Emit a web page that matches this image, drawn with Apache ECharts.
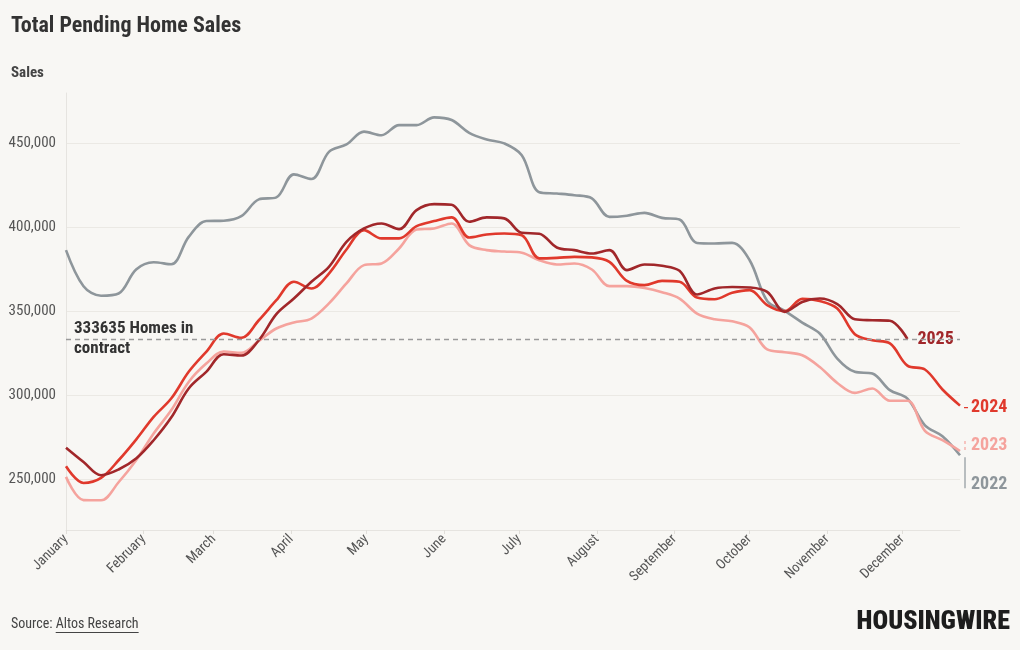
<!DOCTYPE html>
<html>
<head>
<meta charset="utf-8">
<script src="https://cdn.jsdelivr.net/npm/echarts@6/dist/echarts.min.js"></script>
<style>
html,body{margin:0;padding:0;background:#f8f7f4;}
#chart{width:1020px;height:650px;}
</style>
</head>
<body>
<div id="chart"></div>
<script>
// Weekly values (week 0 = Jan 1)
const months = ['January','February','March','April','May','June','July','August','September','October','November','December'];
const monthStartDays = [0,31,59,90,120,151,181,212,243,273,304,334];
const yTicks = [250000,300000,350000,400000,450000];
const years = ['2022','2023','2024','2025'];
const val2022 = [386500,365000,359400,360700,375000,379300,378100,394400,403800,404000,406700,416700,417900,431600,428800,445000,449400,457000,454900,460900,460900,465500,463900,456300,452400,450000,443000,421000,420200,419200,417300,406300,407000,408700,405700,404700,390800,390500,390800,380500,356300,350400,343400,336900,322000,314100,313100,303200,298200,282300,275800,264500];
const val2023 = [251600,237800,237700,248400,261500,277400,291200,308100,319000,326200,325400,332500,339900,343500,345800,354800,366700,377600,378600,387500,398800,399400,402400,389500,386500,385700,385000,380500,378000,378600,375000,365100,365100,364000,361500,357700,348800,345400,344200,340500,327400,325800,324000,317000,307500,301600,304200,296900,296900,279000,273400,267000];
const val2024 = [257900,248000,251000,261500,273800,287300,298200,314100,326000,336900,334300,344800,356700,367700,363700,372600,386900,398400,393500,393500,400800,403800,406000,394000,395800,396400,395400,381600,381900,382500,382200,379500,368200,365700,368200,367700,358300,357300,361100,362700,353800,350200,357500,356300,351800,336500,332900,331000,317800,315500,303600,294000];
const val2025 = [269000,260500,252600,256000,262500,273400,286900,304200,314100,324600,323800,332900,348400,357700,367700,376600,391400,399400,402400,399000,410300,413900,413500,403400,406000,405400,396800,396300,388100,386500,384500,386500,374600,378000,377200,374200,360100,363700,364600,364300,361700,349800,355700,357700,354400,345400,344800,344500,333635];
const refValue = 333635;

const FONT = "'Roboto Condensed','Liberation Sans Narrow','Arial Narrow','DejaVu Sans Condensed',Roboto,sans-serif";
const BG = '#f8f7f4';
const colors = {'2022':'#8e969b','2023':'#f5a39d','2024':'#e0392c','2025':'#a1272a'};
const labelOffsets = {'2022':[0,29],'2023':[0,-6],'2024':[0,2],'2025':[0,0]};
const labelDist = {'2022':11,'2023':11,'2024':11,'2025':8};

function toPairs(arr){ return arr.map((v,i)=>[i*7, v]); }
const seriesVals = {'2022':val2022,'2023':val2023,'2024':val2024,'2025':val2025};

const chart = echarts.init(document.getElementById('chart'), null, {renderer:'canvas'});

const series = years.map(y => ({
  name: y,
  type: 'line',
  data: toPairs(seriesVals[y]),
  smooth: 0.35,
  symbol: 'none',
  lineStyle: {width: 2.6, color: colors[y]},
  itemStyle: {color: colors[y]},
  z: 3,
  endLabel: {
    show: true,
    formatter: y,
    color: colors[y],
    fontFamily: FONT,
    fontWeight: 'bold',
    fontSize: 18,
    distance: labelDist[y],
    offset: labelOffsets[y],
    backgroundColor: y === '2025' ? BG : 'transparent',
    padding: y === '2025' ? [0,2] : 0
  }
}));

// reference line and annotation
series.push({
  name: 'ref',
  type: 'line',
  data: [],
  z: 1,
  markLine: {
    silent: true,
    symbol: 'none',
    lineStyle: {type: [5,4], color: '#9a9a9a', width: 1.3},
    label: {show: false},
    data: [[{coord:[0, refValue]}, {coord:[357, refValue]}]]
  },
  markPoint: {
    silent: true,
    symbol: 'rect',
    symbolSize: 0,
    data: [{coord:[0, refValue]}],
    label: {
      show: true,
      position: 'right',
      distance: 8,
      formatter: refValue + ' Homes in\ncontract',
      color: '#333',
      fontFamily: FONT,
      fontWeight: 'bold',
      fontSize: 17,
      lineHeight: 20,
      align: 'left',
      verticalAlign: 'middle'
    }
  }
});

const option = {
  backgroundColor: BG,
  animation: false,
  grid: {left: 66, right: 60, top: 93, bottom: 120},
  title: [
    {text: 'Total Pending Home Sales', left: 11, top: 15, padding: 0,
     textStyle: {fontFamily: FONT, fontWeight: 'bold', fontSize: 22, color: '#333'}},
    {text: 'Sales', left: 11, top: 66, padding: 0,
     textStyle: {fontFamily: FONT, fontWeight: 'bold', fontSize: 15, color: '#444'}}
  ],
  xAxis: {
    type: 'value',
    min: 0, max: 357,
    axisLine: {show: true, lineStyle: {color: '#e6e4e0'}},
    axisTick: {show: true, customValues: monthStartDays, length: 4, lineStyle: {color: '#e0ded9'}},
    splitLine: {show: false},
    axisLabel: {
      customValues: monthStartDays,
      formatter: v => months[monthStartDays.indexOf(v)] || '',
      rotate: 45,
      fontFamily: FONT, fontSize: 14, color: '#555', margin: 7
    }
  },
  yAxis: {
    type: 'value',
    min: 220000, max: 480000,
    axisLine: {show: true, lineStyle: {color: '#e6e4e0'}},
    axisTick: {show: false, customValues: yTicks},
    splitLine: {show: true, lineStyle: {color: '#ebe9e4', width: 1}},
    axisLabel: {
      customValues: yTicks,
      formatter: v => v.toLocaleString('en-US'),
      fontFamily: FONT, fontSize: 15, color: '#555', margin: 10
    }
  },
  series: series,
  graphic: [
    {type: 'text', left: 11, top: 617,
     style: {text: 'Source: Altos Research', fontFamily: FONT, fontSize: 14, fill: '#444'}},
    {type: 'text', right: 10, top: 610, scaleX: 1.04,
     style: {text: 'HOUSINGWIRE', fontFamily: FONT, fontWeight: 900, fontSize: 25, fill: '#1d1d1d'}}
  ]
};
chart.setOption(option);

// connectors near end labels + underline for source link
(function(){
  const g = [];
  const p22 = chart.convertToPixel({seriesIndex:0}, [357, val2022[val2022.length-1]]);
  const p23 = chart.convertToPixel({seriesIndex:1}, [357, val2023[val2023.length-1]]);
  const p24 = chart.convertToPixel({seriesIndex:2}, [357, val2024[val2024.length-1]]);
  const x = p22[0] + 5;
  g.push({type:'line', silent:true, shape:{x1:x, y1:p22[1]+2, x2:x, y2:p22[1]+33}, style:{stroke:colors['2022'], lineWidth:1.2}});
  g.push({type:'line', silent:true, shape:{x1:x, y1:p23[1]-10, x2:x, y2:p23[1]+1}, style:{stroke:colors['2023'], lineWidth:1.2, lineDash:[3,3]}});
  g.push({type:'line', silent:true, shape:{x1:p24[0]+4, y1:p24[1]+2, x2:p24[0]+8, y2:p24[1]+2}, style:{stroke:colors['2024'], lineWidth:1.2}});
  const ctx = document.createElement('canvas').getContext('2d');
  ctx.font = '14px ' + FONT;
  const w0 = ctx.measureText('Source: ').width;
  const w1 = ctx.measureText('Altos Research').width;
  g.push({type:'line', silent:true, shape:{x1:11+w0, y1:632.5, x2:11+w0+w1, y2:632.5}, style:{stroke:'#444', lineWidth:1}});
  chart.setOption({graphic: option.graphic.concat(g)});
})();
</script>
</body>
</html>
